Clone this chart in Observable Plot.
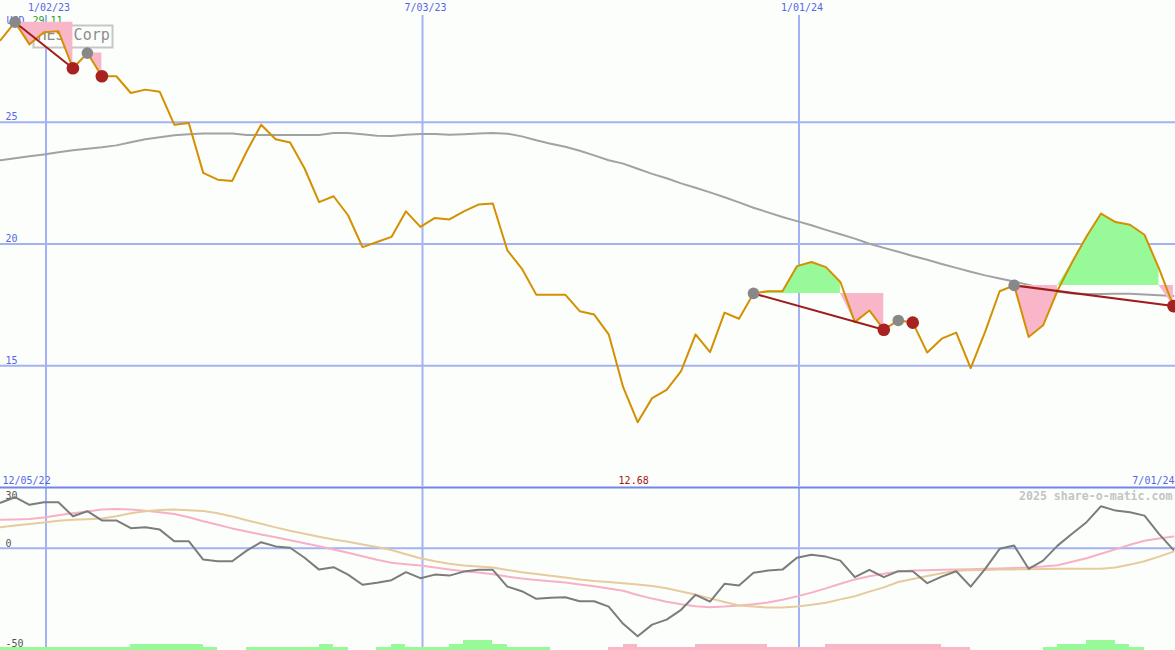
<!DOCTYPE html>
<html><head><meta charset="utf-8">
<script src="https://cdn.jsdelivr.net/npm/d3@7"></script>
<script src="https://cdn.jsdelivr.net/npm/@observablehq/plot@0.6"></script>
<style>
html,body{margin:0;padding:0;background:#fcfefc;}
#chart{width:1175px;line-height:0;}
#chart svg{display:block;}
</style></head><body><div id="chart"></div>
<script>
// ---------- data ----------
const firstWeek = new Date(Date.UTC(2022, 11, 11));
const xDomain = [new Date(Date.UTC(2022, 11, 11)), new Date(Date.UTC(2024, 6, 1))];

const price = [28.37,29.11,28.20,28.70,28.74,27.22,27.84,26.89,26.89,26.20,
  26.34,26.25,24.90,24.97,22.92,22.64,22.59,23.80,24.90,24.30,
  24.17,23.10,21.72,21.96,21.18,19.87,20.08,20.29,21.34,20.70,
  21.07,21.01,21.34,21.62,21.66,19.74,18.99,17.92,17.92,17.92,
  17.24,17.10,16.29,14.12,12.68,13.67,14.01,14.78,16.29,15.56,
  17.18,16.93,17.97,18.06,18.06,19.09,19.26,19.05,18.44,16.79,
  17.27,16.48,16.86,16.77,15.54,16.11,16.36,14.90,16.40,18.06,
  18.30,16.18,16.66,18.09,19.25,20.31,21.25,20.90,20.79,20.38,
  19.00,17.45];

const movingAvg = [23.44,23.52,23.60,23.68,23.77,23.85,23.91,23.97,24.05,24.18,
  24.30,24.38,24.47,24.51,24.54,24.54,24.54,24.48,24.48,24.48,
  24.48,24.48,24.48,24.56,24.56,24.51,24.45,24.44,24.49,24.52,
  24.52,24.49,24.51,24.54,24.56,24.53,24.42,24.26,24.12,23.99,
  23.83,23.64,23.44,23.30,23.09,22.88,22.70,22.49,22.31,22.12,
  21.92,21.71,21.49,21.30,21.11,20.94,20.77,20.58,20.40,20.22,
  20.01,19.84,19.68,19.51,19.35,19.18,19.02,18.86,18.71,18.58,
  18.46,18.32,18.18,18.05,17.97,17.95,17.95,17.96,17.96,17.93,
  17.89,17.86];

const oscillator = [22.7,25.5,21.7,23.0,23.0,16.0,18.5,13.9,13.9,10.0,
  10.5,9.3,3.5,3.5,-5.7,-6.5,-6.5,-1.2,3.0,0.9,
  0.2,-4.8,-10.7,-9.5,-13.2,-18.3,-17.3,-16.0,-12.0,-15.0,
  -13.2,-13.7,-11.7,-10.8,-10.8,-19.2,-21.5,-25.3,-24.8,-24.5,
  -26.5,-26.5,-29.2,-37.8,-44.0,-38.2,-35.7,-30.8,-23.3,-26.7,
  -17.8,-18.7,-12.3,-11.2,-10.7,-4.8,-3.3,-4.2,-6.2,-14.5,
  -10.8,-14.5,-11.5,-11.5,-17.5,-14.2,-11.5,-19.2,-10.3,-0.3,
  1.3,-10.3,-6.2,1.3,7.2,13.0,21.0,18.8,18.0,16.3,
  7.2,-0.8];

const oscSignal = [14.2,14.4,14.6,15.3,16.5,17.5,18.4,19.3,19.6,19.3,
  18.7,18.0,17.1,15.5,13.5,11.7,9.9,8.3,6.9,5.5,
  4.0,2.5,1.0,-0.6,-2.3,-4.0,-5.8,-7.3,-8.0,-8.6,
  -9.6,-10.6,-11.5,-12.2,-13.0,-14.2,-15.2,-15.9,-16.5,-17.2,
  -18.1,-19.0,-20.2,-21.3,-23.4,-25.2,-26.8,-28.0,-29.0,-29.5,
  -29.2,-28.7,-28.0,-27.2,-25.8,-24.1,-22.2,-20.1,-17.8,-15.6,
  -14.0,-12.8,-11.6,-11.1,-11.0,-10.8,-10.7,-10.5,-10.3,-10.1,
  -9.9,-9.6,-9.2,-8.5,-6.8,-5.0,-2.8,-0.6,1.7,3.7,
  4.9,5.8];

const oscSlow = [10.5,11.3,12.1,12.9,13.7,14.2,14.5,14.8,16.0,17.5,
  18.5,19.1,19.3,19.0,18.6,17.5,15.9,14.0,12.2,10.4,
  8.7,7.2,5.7,4.4,3.2,1.9,0.6,-0.9,-3.0,-5.0,
  -6.5,-7.8,-8.6,-9.1,-9.7,-10.9,-12.0,-12.9,-13.8,-14.7,
  -15.6,-16.4,-16.9,-17.5,-18.1,-18.9,-20.0,-21.6,-23.2,-25.1,
  -26.9,-28.6,-29.2,-29.7,-29.6,-29.1,-28.3,-27.3,-25.6,-24.0,
  -21.7,-19.6,-16.9,-15.4,-13.9,-12.5,-11.3,-11.0,-10.9,-10.7,
  -10.6,-10.5,-10.4,-10.3,-10.3,-10.3,-10.3,-9.6,-8.2,-6.5,
  -4.2,-1.7];

// signed histogram level: positive = green, negative = pink
const histogram = [1,1,1,1,1,1,1,1,1,2,
  2,2,2,2,1,0,0,1,1,1,
  1,1,2,1,0,0,1,2,1,1,
  1,2,3,3,2,1,1,1,0,0,
  0,0,-1,-2,-1,-1,-1,-1,-2,-2,
  -2,-2,-2,-1,-1,-1,-1,-2,-2,-2,
  -2,-2,-2,-2,-2,-1,-1,0,0,0,
  0,0,1,2,2,3,3,2,1,0,
  0,0];

const peakIdx = [1, 6, 52, 62, 70];   // grey markers
const lowIdx  = [5, 7, 61, 63, 81];   // red markers
const trendPairs = [[1, 5], [52, 61], [70, 81]];

const dateTicks = [new Date(Date.UTC(2023,0,2)), new Date(Date.UTC(2023,6,3)), new Date(Date.UTC(2024,0,1))];
const dateTickLabels = ["1/02/23", "7/03/23", "1/01/24"];
const priceTicks = [15, 20, 25];
const oscTicks = [30, 0, -50];
const symbolName = "HES Corp";
const currency = "USD";
const lastQuote = "29.11";
const rangeStart = "12/05/22";
const rangeEnd = "7/01/24";
const credit = "2025 share-o-matic.com";

// ---------- styles ----------
const BG = "#fcfefc", GRID = "#a3b2f2", SEP = "#7585e6", AXT = "#5566e6";
const FONT = "DejaVu Sans Mono";
const GREEN = "#97f997", PINK = "#fab6c9";

// ---------- derived tables ----------
const weeks = price.map((p, k) => ({
  k, date: d3.utcDay.offset(firstWeek, 7 * k), price: p, ma: movingAvg[k],
  osc: oscillator[k], sig: oscSignal[k], slow: oscSlow[k], hist: histogram[k]
}));
const dateOf = k => weeks[k].date;

const fillRows = [];
peakIdx.forEach((p, s) => {
  const q = lowIdx[s], level = price[p];
  let run = 0, prevUp = null;
  for (let k = p + 1; k <= q; k++) {
    const up = price[k] >= level;
    if (prevUp !== null && up !== prevUp) run++;
    prevUp = up;
    const id = s + "-" + run;
    const start = up ? Math.max(price[k - 1], level) : Math.min(price[k - 1], level);
    fillRows.push({id, up, date: dateOf(k - 1), level, y: start});
    fillRows.push({id, up, date: dateOf(k), level, y: price[k]});
  }
});

const minK = d3.minIndex(price);

function labelBox() {
  const r = document.createElementNS("http://www.w3.org/2000/svg", "rect");
  r.setAttribute("x", 33.5); r.setAttribute("y", 25.5);
  r.setAttribute("width", 79); r.setAttribute("height", 22);
  r.setAttribute("fill", BG); r.setAttribute("stroke", "#c6c6c6"); r.setAttribute("stroke-width", 2);
  return r;
}

const txt = {fontFamily: FONT, fontSize: 10};

const topPlot = Plot.plot({
  width: 1175, height: 486, margin: 0,
  x: {type: "utc", domain: xDomain, axis: null},
  y: {domain: [10.04, 30], axis: null},
  style: {background: BG, fontFamily: FONT},
  marks: [
    Plot.ruleY(priceTicks, {stroke: GRID, strokeWidth: 2}),
    Plot.ruleX(dateTicks, {stroke: GRID, strokeWidth: 2, insetTop: 15}),
    Plot.text(priceTicks, {...txt, y: d => d, text: d => String(d), frameAnchor: "left", textAnchor: "start", lineAnchor: "bottom", dx: 5, dy: -2, fill: AXT}),
    Plot.text(dateTicks, {...txt, x: d => d, text: (d, i) => dateTickLabels[i], frameAnchor: "top", lineAnchor: "top", dy: 3, dx: 3, fill: AXT}),
    Plot.text([rangeStart], {...txt, text: d => d, frameAnchor: "bottom-left", textAnchor: "start", lineAnchor: "bottom", dx: 2, dy: -3, fill: AXT}),
    Plot.text([rangeEnd], {...txt, text: d => d, frameAnchor: "bottom-right", textAnchor: "end", lineAnchor: "bottom", dx: -1, dy: -3, fill: AXT}),
    Plot.text([minK], {...txt, x: k => dateOf(k), text: k => d3.format(".2f")(price[k]), frameAnchor: "bottom", lineAnchor: "bottom", dx: -4, dy: -3, fill: "#a01818"}),
    Plot.text([currency], {...txt, text: d => d, frameAnchor: "top-left", textAnchor: "start", lineAnchor: "top", dx: 6, dy: 16, fill: AXT}),
    Plot.text([lastQuote], {...txt, text: d => d, frameAnchor: "top-left", textAnchor: "start", lineAnchor: "top", dx: 32, dy: 16, fill: "#22a022"}),
    labelBox,
    Plot.text([symbolName], {fontFamily: FONT, fontSize: 15, text: d => d, frameAnchor: "top-left", textAnchor: "start", lineAnchor: "top", dx: 37, dy: 29, fill: "#8c8c8c"}),
    Plot.line(weeks, {x: "date", y: "ma", stroke: "#a2a2a2", strokeWidth: 2}),
    Plot.areaY(fillRows.filter(d => d.up), {x: "date", y1: "level", y2: "y", z: "id", fill: GREEN}),
    Plot.areaY(fillRows.filter(d => !d.up), {x: "date", y1: "level", y2: "y", z: "id", fill: PINK}),
    Plot.line(weeks, {x: "date", y: "price", stroke: "#d49000", strokeWidth: 2}),
    Plot.link(trendPairs, {x1: d => dateOf(d[0]), y1: d => price[d[0]], x2: d => dateOf(d[1]), y2: d => price[d[1]], stroke: "#a01c1c", strokeWidth: 2}),
    Plot.dot(peakIdx, {x: k => dateOf(k), y: k => price[k], r: 5.8, fill: "#888888"}),
    Plot.dot(lowIdx, {x: k => dateOf(k), y: k => price[k], r: 6.3, fill: "#a82222"})
  ]
});

const oscDomain = [-51.15, 30.35];
const barUnit = 1.6;
const botPlot = Plot.plot({
  width: 1175, height: 164, marginTop: 1, marginBottom: 0, marginLeft: 0, marginRight: 0,
  x: {type: "utc", domain: xDomain, axis: null},
  y: {domain: oscDomain, axis: null},
  style: {background: BG, fontFamily: FONT},
  marks: [
    Plot.ruleY([0], {stroke: GRID, strokeWidth: 2}),
    Plot.ruleX(dateTicks, {stroke: GRID, strokeWidth: 2}),
    Plot.frame({anchor: "top", stroke: SEP, strokeWidth: 2}),
    Plot.text(oscTicks.filter(d => d === d3.max(oscTicks)), {...txt, y: d => d, text: d => String(d), frameAnchor: "left", textAnchor: "start", lineAnchor: "top", dx: 5, dy: 4, fill: "#555555"}),
    Plot.text(oscTicks.filter(d => d !== d3.max(oscTicks)), {...txt, y: d => d, text: d => String(d), frameAnchor: "left", textAnchor: "start", lineAnchor: "bottom", dx: 5, dy: -1, fill: "#555555"}),
    Plot.text([credit], {fontFamily: FONT, fontSize: 11.6, fontWeight: "bold", text: d => d, frameAnchor: "top-right", textAnchor: "end", lineAnchor: "top", dx: -3, dy: 4, fill: "#c4c4c4"}),
    Plot.rect(weeks.filter(d => d.hist !== 0), {
      x1: "date", x2: d => d3.utcDay.offset(d.date, 7),
      y1: oscDomain[0], y2: d => oscDomain[0] + Math.abs(d.hist) * barUnit,
      fill: d => d.hist > 0 ? GREEN : PINK, shapeRendering: "crispEdges"
    }),
    Plot.line(weeks, {x: "date", y: "sig", stroke: "#f7b0c6", strokeWidth: 2}),
    Plot.line(weeks, {x: "date", y: "slow", stroke: "#e5cb9d", strokeWidth: 2}),
    Plot.line(weeks, {x: "date", y: "osc", stroke: "#7c7c7c", strokeWidth: 2})
  ]
});

const root = document.getElementById("chart");
root.appendChild(topPlot);
root.appendChild(botPlot);
</script>
</body></html>
